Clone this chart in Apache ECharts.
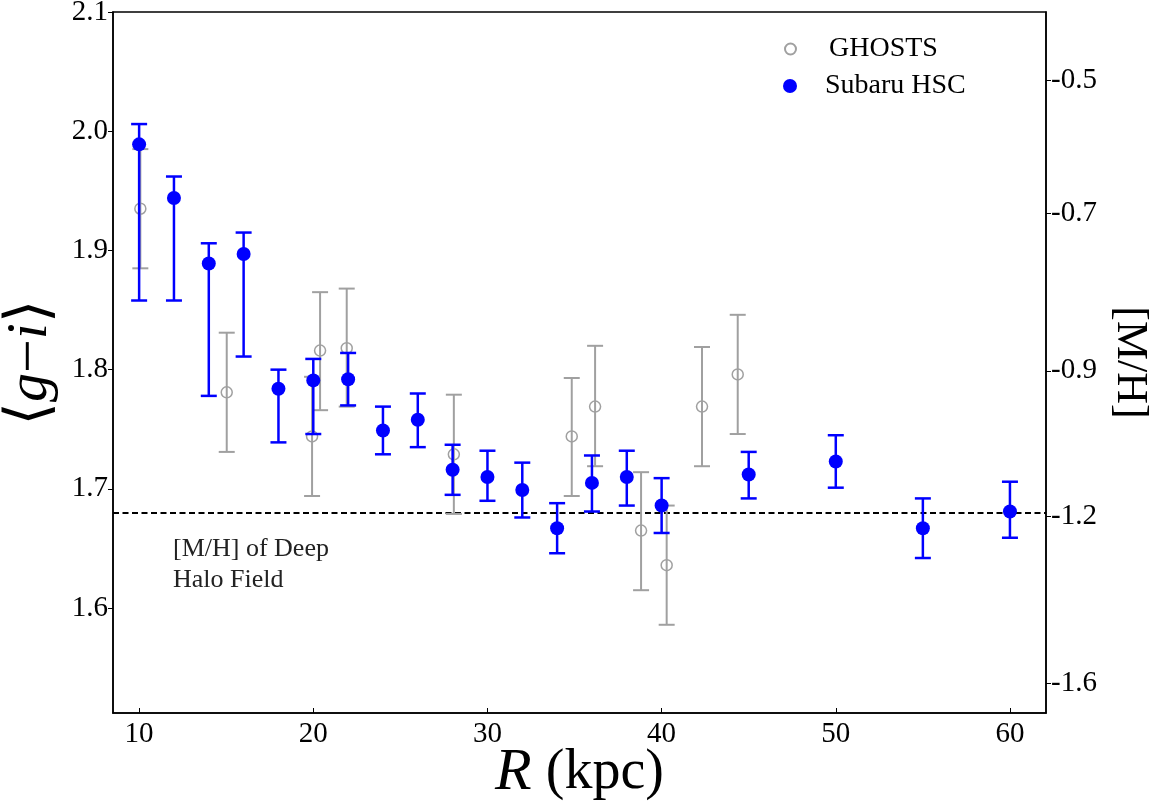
<!DOCTYPE html>
<html><head><meta charset="utf-8">
<script src="https://cdn.jsdelivr.net/npm/echarts@6/dist/echarts.min.js"></script>
<style>html,body{margin:0;padding:0;background:#fff}#c{width:1165px;height:810px}</style>
</head><body><div id="c"></div>
<script>
// Subaru HSC (filled blue)
const hscR   = [10, 12, 14, 16, 18, 20, 22, 24, 26, 28, 30, 32, 34, 36, 38, 40, 45, 50, 55, 60];
const hscVal = [1.989, 1.944, 1.889, 1.897, 1.784, 1.791, 1.792, 1.749, 1.758, 1.716, 1.710, 1.699, 1.667, 1.705, 1.710, 1.686, 1.712, 1.723, 1.667, 1.681];
const hscHi  = [2.006, 1.962, 1.906, 1.915, 1.800, 1.809, 1.814, 1.769, 1.780, 1.737, 1.732, 1.722, 1.688, 1.728, 1.732, 1.709, 1.731, 1.745, 1.692, 1.706];
const hscLo  = [1.858, 1.858, 1.778, 1.811, 1.739, 1.746, 1.770, 1.729, 1.735, 1.695, 1.690, 1.676, 1.646, 1.681, 1.686, 1.663, 1.692, 1.701, 1.642, 1.659];
// GHOSTS (open grey)
const ghR   = [10.07, 15.03, 19.93, 20.39, 21.92, 28.07, 34.84, 36.18, 38.82, 40.29, 42.32, 44.37];
const ghVal = [1.935, 1.781, 1.744, 1.816, 1.818, 1.729, 1.744, 1.769, 1.665, 1.636, 1.769, 1.796];
const ghHi  = [1.985, 1.831, 1.794, 1.865, 1.868, 1.779, 1.793, 1.820, 1.714, 1.686, 1.819, 1.846];
const ghLo  = [1.885, 1.731, 1.694, 1.766, 1.769, 1.679, 1.694, 1.719, 1.615, 1.586, 1.719, 1.746];
// ticks
const xTicks = [10, 20, 30, 40, 50, 60];
const yTicks = [1.6, 1.7, 1.8, 1.9, 2.0, 2.1];
const mhTickPos    = [2.043, 1.931, 1.799, 1.677, 1.537];
const mhTickLabels = ['-0.5', '-0.7', '-0.9', '-1.2', '-1.6'];
const deepHaloVal = 1.681;
const xMin = 8.5, xMax = 62.07, yMin = 1.512, yMax = 2.1;

const FF = "'Liberation Serif','DejaVu Serif',serif";
const BLUE = '#0000ff', GREY = '#a0a0a0';

function errData(r, lo, hi) { return r.map((x, i) => [x, lo[i], hi[i]]); }
function errRender(color, lw, capHalf) {
  return function (params, api) {
    const x = api.value(0), lo = api.value(1), hi = api.value(2);
    const pLo = api.coord([x, lo]), pHi = api.coord([x, hi]);
    const st = { stroke: color, lineWidth: lw };
    return { type: 'group', children: [
      { type: 'line', shape: { x1: pLo[0], y1: pLo[1], x2: pHi[0], y2: pHi[1] }, style: st },
      { type: 'line', shape: { x1: pLo[0] - capHalf, y1: pLo[1], x2: pLo[0] + capHalf, y2: pLo[1] }, style: st },
      { type: 'line', shape: { x1: pHi[0] - capHalf, y1: pHi[1], x2: pHi[0] + capHalf, y2: pHi[1] }, style: st }
    ]};
  };
}
function nearestIdx(arr, v) {
  let b = 0; for (let i = 1; i < arr.length; i++) if (Math.abs(arr[i] - v) < Math.abs(arr[b] - v)) b = i; return b;
}

const chart = echarts.init(document.getElementById('c'), null, { renderer: 'canvas' });
chart.setOption({
  animation: false,
  backgroundColor: '#fff',
  grid: { left: 113, right: 119, top: 12, bottom: 97, show: true, borderColor: '#000', borderWidth: 1.5,
          backgroundColor: 'transparent', containLabel: false, outerBoundsMode: 'none' },
  legend: [
    { data: ['GHOSTS'], left: 779, top: 30, orient: 'vertical', itemWidth: 11, itemHeight: 11, selectedMode: false,
      formatter: n => '{sp|}' + n,
      textStyle: { fontFamily: FF, fontSize: 28, color: '#000', rich: { sp: { width: 28 } } } },
    { data: ['Subaru HSC'], left: 778, top: 67, orient: 'vertical', itemWidth: 14, itemHeight: 14, selectedMode: false,
      formatter: n => '{sp|}' + n,
      textStyle: { fontFamily: FF, fontSize: 28, color: '#000', rich: { sp: { width: 23 } } } }
  ],
  xAxis: {
    type: 'value', min: xMin, max: xMax, position: 'bottom',
    name: '{it|R} (kpc)', nameLocation: 'middle', nameGap: 30, nameMoveOverlap: false,
    nameTextStyle: { fontFamily: FF, fontSize: 56, color: '#000', rich: { it: { fontFamily: FF, fontStyle: 'italic', fontSize: 60, color: '#000' } } },
    axisLine: { show: true, onZero: false, lineStyle: { color: '#000', width: 1.5 } },
    axisTick: { show: true, inside: true, length: 5, customValues: xTicks, lineStyle: { color: '#000', width: 1 } },
    axisLabel: { customValues: xTicks, fontFamily: FF, fontSize: 29, color: '#000', margin: 7 },
    splitLine: { show: false }
  },
  yAxis: [
    {
      type: 'value', min: yMin, max: yMax, position: 'left',
      name: '⟨{it|g}−{it|i}⟩', nameLocation: 'middle', nameGap: 50, nameRotate: 90,
      nameTextStyle: { fontFamily: FF, fontSize: 60, color: '#000', rich: { it: { fontFamily: FF, fontStyle: 'italic', fontSize: 58, color: '#000' } } },
      axisLine: { show: true, onZero: false, lineStyle: { color: '#000', width: 1.5 } },
      axisTick: { show: true, inside: false, length: 5, customValues: yTicks, lineStyle: { color: '#000', width: 1 } },
      axisLabel: { customValues: yTicks, formatter: v => v.toFixed(1), fontFamily: FF, fontSize: 29, color: '#000', margin: 5 },
      splitLine: { show: false }
    },
    {
      type: 'value', min: yMin, max: yMax, position: 'right',
      name: '[M/H]', nameLocation: 'middle', nameGap: 60, nameRotate: -90,
      nameTextStyle: { fontFamily: FF, fontSize: 44, color: '#000' },
      axisLine: { show: true, onZero: false, lineStyle: { color: '#000', width: 1.5 } },
      axisTick: { show: true, inside: false, length: 5, customValues: mhTickPos, lineStyle: { color: '#000', width: 1 } },
      axisLabel: { customValues: mhTickPos, formatter: v => mhTickLabels[nearestIdx(mhTickPos, v)], fontFamily: FF, fontSize: 29, color: '#000', margin: 5 },
      splitLine: { show: false }
    }
  ],
  graphic: [
    { type: 'text', left: 173, top: 534, z: 10,
      style: { text: '[M/H] of Deep\nHalo Field', fontFamily: FF, fontSize: 26, lineHeight: 31, fill: '#222' } }
  ],
  series: [
    { type: 'custom', name: 'ghErr', data: errData(ghR, ghLo, ghHi), renderItem: errRender(GREY, 2, 8),
      encode: { x: 0, y: [1, 2] }, z: 2, silent: true },
    { type: 'scatter', name: 'GHOSTS', data: ghR.map((x, i) => [x, ghVal[i]]), symbol: 'circle', symbolSize: 11,
      itemStyle: { color: 'rgba(255,255,255,0)', borderColor: GREY, borderWidth: 1.5, opacity: 1 }, z: 3 },
    { type: 'custom', name: 'hscErr', data: errData(hscR, hscLo, hscHi), renderItem: errRender(BLUE, 2.5, 8),
      encode: { x: 0, y: [1, 2] }, z: 4, silent: true },
    { type: 'scatter', name: 'Subaru HSC', data: hscR.map((x, i) => [x, hscVal[i]]), symbol: 'circle', symbolSize: 14,
      itemStyle: { color: BLUE, opacity: 1 }, z: 5,
      markLine: { silent: true, symbol: 'none', label: { show: false }, z: 1,
        lineStyle: { type: [6, 3.5], color: '#000', width: 2 },
        data: [{ yAxis: deepHaloVal }] } }
  ]
});
</script></body></html>
